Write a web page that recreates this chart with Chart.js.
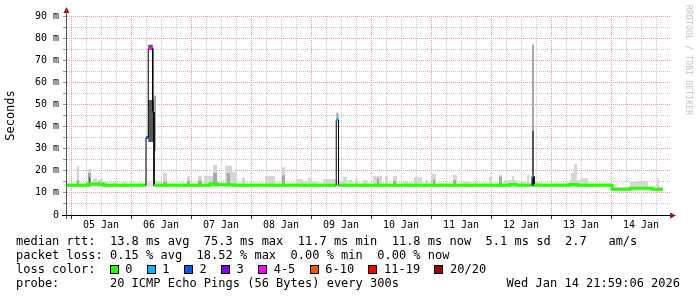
<!DOCTYPE html>
<html>
<head>
<meta charset="utf-8">
<title>smokeping</title>
<script src="https://cdn.jsdelivr.net/npm/chart.js@4.4.1/dist/chart.umd.min.js"></script>
<style>
  html, body { margin: 0; padding: 0; background: #fff; }
  #wrap { position: relative; width: 697px; height: 297px; overflow: hidden; background: #fff; }
  #wrap canvas { position: absolute; left: 0; top: 0; }
  .txt { position: absolute; font-family: 'DejaVu Sans Mono', monospace; font-size: 12px; line-height: 14px; color: #000; white-space: pre; }
  .box { position: absolute; width: 7px; height: 7px; border: 1px solid #000; }
  #mark { position: absolute; left: 684px; top: 5px; writing-mode: vertical-rl; font-family: 'DejaVu Sans Mono', monospace; font-size: 8px; line-height: 8px; color: #c4c4c4; letter-spacing: 0.2px; white-space: pre; }
</style>
</head>
<body>
<div id="wrap">
  <canvas id="chart" width="697" height="297"></canvas>
  <div id="mark">RRDTOOL / TOBI OETIKER</div>
  <div class="txt" style="left:16px;top:234px">median rtt:  13.8 ms avg  75.3 ms max  11.7 ms min  11.8 ms now  5.1 ms sd  2.7   am/s</div>
  <div class="txt" style="left:16px;top:248px">packet loss: 0.15 % avg  18.52 % max  0.00 % min  0.00 % now</div>
  <div class="txt" style="left:16px;top:262px">loss color:</div>
  <div id="lossLegend"></div>
  <div class="txt" style="left:16px;top:276px">probe:       20 ICMP Echo Pings (56 Bytes) every 300s</div>
  <div class="txt" style="right:17px;top:276px">Wed Jan 14 21:59:06 2026</div>
</div>
<script>
/* x values are hours since 05 Jan 00:00, y values are milliseconds */
const dayLabels = ['05 Jan', '06 Jan', '07 Jan', '08 Jan', '09 Jan', '10 Jan', '11 Jan', '12 Jan', '13 Jan', '14 Jan'];

/* median rtt: bin edges, value per bin, lost pings per bin */
const medTime = [-2.0, 6.8, 12.8, 30.0, 30.9, 32.7, 33.2, 55.6, 58.4, 65.2, 106.1, 107.0, 175.6, 178.4, 184.4, 185.2, 199.2, 202.4, 216.4, 223.6, 232.4, 236.8];
const medRtt  = [13.4, 14.0, 13.4, 35.0, 75.3, 46.5, 13.4, 14.1, 13.7, 13.4, 43.0, 13.4, 13.8, 13.4, 17.5, 13.4, 13.8, 13.4, 11.6, 12.1, 11.7];
const medLoss = [0, 0, 0, 2, 4, 2, 0, 0, 0, 0, 1, 0, 0, 0, 1, 0, 0, 0, 0, 0, 0];

/* smoke: [from, to, low, high] */
const smokeBand = [[-2.0, 216.4, 12.6, 14.7], [216.4, 236.8, 10.8, 12.8]];
const smokeLight = [
  [2.3, 3.2, 13.0, 22.3], [6.8, 8.0, 13.0, 20.8], [8.8, 10.4, 13.0, 16.6], [10.8, 12.8, 13.0, 16.2],
  [12.8, 14.8, 13.0, 15.0], [16.8, 18.4, 13.0, 14.9], [20.8, 22.4, 13.0, 14.9], [33.6, 36.4, 13.0, 15.5],
  [36.8, 38.4, 13.0, 19.1], [46.4, 47.6, 13.0, 17.6], [50.8, 52.4, 13.0, 17.6], [53.2, 56.8, 13.0, 17.6],
  [56.8, 58.4, 13.0, 22.6], [61.6, 64.4, 13.0, 22.3], [64.4, 66.4, 13.0, 19.6], [68.4, 69.6, 13.0, 17.0],
  [77.6, 81.6, 13.0, 17.6], [84.4, 85.6, 13.0, 21.6], [90.0, 92.8, 13.0, 16.3], [92.8, 94.8, 13.0, 15.4],
  [94.8, 96.4, 13.0, 16.9], [96.4, 98.4, 13.0, 15.0], [100.8, 106.1, 13.0, 16.2], [107.2, 108.8, 13.0, 15.0],
  [108.8, 110.4, 13.0, 17.3], [110.8, 112.4, 13.0, 15.8], [113.6, 114.8, 13.0, 16.2], [116.8, 118.4, 13.0, 15.8],
  [120.8, 124.4, 13.0, 17.6], [125.6, 126.8, 13.0, 17.6], [128.8, 130.4, 13.0, 17.6], [132.4, 134.8, 13.0, 15.0],
  [137.2, 140.4, 13.0, 17.2], [142.0, 142.8, 13.0, 15.8], [144.4, 146.0, 13.0, 18.5], [152.8, 154.4, 13.0, 18.1],
  [156.8, 159.6, 13.0, 15.0], [161.2, 162.4, 13.0, 15.0], [167.2, 168.4, 13.0, 17.3], [171.2, 172.4, 13.0, 18.1],
  [173.2, 176.4, 13.0, 15.8], [176.4, 177.2, 13.0, 17.6], [177.2, 178.4, 13.0, 15.8], [179.6, 182.4, 13.0, 15.0],
  [182.4, 183.2, 13.0, 18.1], [185.6, 187.6, 13.0, 14.8], [199.2, 200.0, 13.0, 15.8], [200.0, 201.2, 13.0, 19.1],
  [201.2, 202.4, 13.0, 23.0], [202.4, 203.6, 13.0, 15.8], [203.6, 206.8, 13.0, 16.6], [223.6, 226.4, 11.2, 15.0],
  [226.4, 230.8, 11.2, 15.5], [234.4, 235.2, 11.2, 16.6]
];
const smokeMid = [
  [2.3, 3.2, 13.0, 15.8], [6.8, 8.0, 13.0, 19.0], [10.8, 11.6, 13.0, 15.0], [33.2, 34.0, 29.0, 54.0],
  [36.8, 38.4, 13.0, 15.0], [46.4, 47.6, 13.0, 15.5], [50.8, 52.4, 13.0, 15.5], [56.8, 58.4, 13.0, 19.0],
  [62.4, 63.6, 13.0, 19.0], [84.4, 85.6, 13.0, 18.0], [106.1, 107.0, 43.0, 46.2], [122.4, 123.2, 13.0, 16.4],
  [128.8, 130.0, 13.0, 15.4], [144.8, 145.6, 13.0, 16.1], [152.8, 154.0, 13.0, 15.8], [171.2, 172.4, 13.0, 17.3],
  [184.4, 185.2, 38.0, 77.0]
];
const smokeDark = [
  [7.2, 7.6, 13.0, 17.3], [30.9, 33.2, 33.0, 52.0], [30.9, 32.7, 75.3, 77.0], [184.4, 185.2, 13.0, 38.0]
];

const lossLabels = ['0', '1', '2', '3', '4-5', '6-10', '11-19', '20/20'];
const lossColors = ['#26ff00', '#00b8ff', '#0059ff', '#7e00ff', '#ff00ff', '#ff5500', '#ff0000', '#a10000'];

function lossClass(n) {
  if (n <= 3) return n;
  if (n <= 5) return 4;
  if (n <= 10) return 5;
  if (n < 20) return 6;
  return 7;
}

/* each smoke block becomes a closed shape, separated by a gap */
function rects(list) {
  let pts = [];
  list.forEach(r => {
    pts.push({x: r[0], y: r[2]}, {x: r[0], y: r[3]}, {x: r[1], y: r[3]}, {x: r[1], y: r[2]}, {x: r[1], y: null});
  });
  return pts;
}

let medPts = [];
for (let i = 0; i < medRtt.length; i++) {
  medPts.push({x: medTime[i], y: medRtt[i]}, {x: medTime[i + 1], y: medRtt[i]});
}

function isStep(ctx) { return ctx.p0DataIndex % 2 === 1; }
function binOf(ctx) { return Math.floor(ctx.p0DataIndex / 2); }
function cleanStep(ctx) {
  let b = binOf(ctx);
  return medLoss[b] === 0 && medLoss[b + 1] === 0;
}

/* legend boxes */
let legend = document.getElementById('lossLegend');
let lx = 109.5;
lossLabels.forEach((lbl, i) => {
  legend.innerHTML += `<div class="box" style="left:${lx}px;top:265px;background:${lossColors[i]}"></div>` +
    `<div class="txt" style="left:${lx + 15.7}px;top:262px">${lbl}</div>`;
  lx += 15.7 + lbl.length * 7.22 + 14.2;
});

const majorGrid = '#eb9c9c';
const minorGrid = '#c8c8c8';
const monoFont = 'DejaVu Sans Mono';

function isMajor(value, every) {
  return Math.abs(value % every) < 0.001;
}

function smokeSet(label, list, color, order) {
  return {
    label: label,
    data: rects(list),
    backgroundColor: color,
    borderColor: 'rgba(0,0,0,0)',
    borderWidth: 0,
    pointRadius: 0,
    fill: 'shape',
    order: order
  };
}

/* axis extensions and the little red arrows */
const axisArrows = {
  id: 'axisArrows',
  afterDraw(chart) {
    const ctx = chart.ctx;
    const a = chart.chartArea;
    ctx.save();
    ctx.lineWidth = 1;
    ctx.strokeStyle = '#555';
    ctx.beginPath();
    ctx.moveTo(a.left + 0.5, a.bottom + 4);
    ctx.lineTo(a.left + 0.5, a.top - 6);
    ctx.stroke();
    ctx.strokeStyle = '#000';
    ctx.beginPath();
    ctx.moveTo(a.left - 4, a.bottom + 0.5);
    ctx.lineTo(a.right + 1, a.bottom + 0.5);
    ctx.stroke();
    ctx.fillStyle = '#a01c1c';
    ctx.beginPath();
    ctx.moveTo(a.left + 0.5, a.top - 9);
    ctx.lineTo(a.left + 3.5, a.top - 3);
    ctx.lineTo(a.left - 2.5, a.top - 3);
    ctx.closePath();
    ctx.fill();
    ctx.beginPath();
    ctx.moveTo(a.right + 6, a.bottom + 0.5);
    ctx.lineTo(a.right, a.bottom + 3.5);
    ctx.lineTo(a.right, a.bottom - 2.5);
    ctx.closePath();
    ctx.fill();
    ctx.restore();
  }
};

new Chart(document.getElementById('chart'), {
  type: 'line',
  data: {
    datasets: [
      {
        label: 'median rtt',
        data: medPts,
        borderColor: lossColors[0],
        borderWidth: 3,
        pointRadius: 0,
        fill: false,
        order: 0,
        segment: {
          borderColor: ctx => isStep(ctx) ? (cleanStep(ctx) ? lossColors[0] : '#000') : lossColors[lossClass(medLoss[binOf(ctx)])],
          borderWidth: ctx => (isStep(ctx) && !cleanStep(ctx)) ? 1 : 3
        }
      },
      smokeSet('smoke dark', smokeDark, '#585858', 1),
      smokeSet('smoke mid', smokeMid, '#a8a8a8', 2),
      smokeSet('smoke light', smokeLight, '#d6d6d6', 3),
      smokeSet('smoke band', smokeBand, '#e2e2e2', 4)
    ]
  },
  options: {
    responsive: false,
    animation: false,
    devicePixelRatio: 1,
    layout: { padding: { left: 0, top: 16, right: 27, bottom: 0 } },
    plugins: {
      legend: { display: false },
      tooltip: { enabled: false }
    },
    scales: {
      x: {
        type: 'linear',
        min: -2.0,
        max: 239.6,
        afterFit: s => { s.height = 82; },
        border: { color: '#000', dash: [1, 1] },
        grid: {
          color: ctx => (ctx.tick && isMajor(ctx.tick.value, 24)) ? majorGrid : minorGrid,
          tickLength: 4,
          tickColor: ctx => (ctx.tick && isMajor(ctx.tick.value, 24)) ? '#333' : 'rgba(0,0,0,0)'
        },
        ticks: {
          stepSize: 6,
          includeBounds: false,
          autoSkip: false,
          maxRotation: 0,
          padding: 0,
          color: '#000',
          font: { family: monoFont, size: 10 },
          callback: v => (isMajor(v - 12, 24) ? dayLabels[Math.round((v - 12) / 24)] : '')
        }
      },
      y: {
        min: 0,
        max: 90,
        afterFit: s => { s.width = 66; },
        border: { color: '#555', dash: [1, 1] },
        grid: {
          color: ctx => (ctx.tick && isMajor(ctx.tick.value, 10)) ? majorGrid : minorGrid,
          tickLength: 3,
          tickColor: '#999'
        },
        ticks: {
          stepSize: 5,
          autoSkip: false,
          padding: 4,
          color: '#000',
          font: { family: monoFont, size: 10 },
          callback: v => (isMajor(v, 10) ? (v === 0 ? '0' : v + ' m') : '')
        },
        title: {
          display: true,
          text: 'Seconds',
          color: '#000',
          font: { family: monoFont, size: 12 },
          padding: { top: 4, bottom: 0 }
        }
      }
    }
  },
  plugins: [axisArrows]
});
</script>
</body>
</html>
